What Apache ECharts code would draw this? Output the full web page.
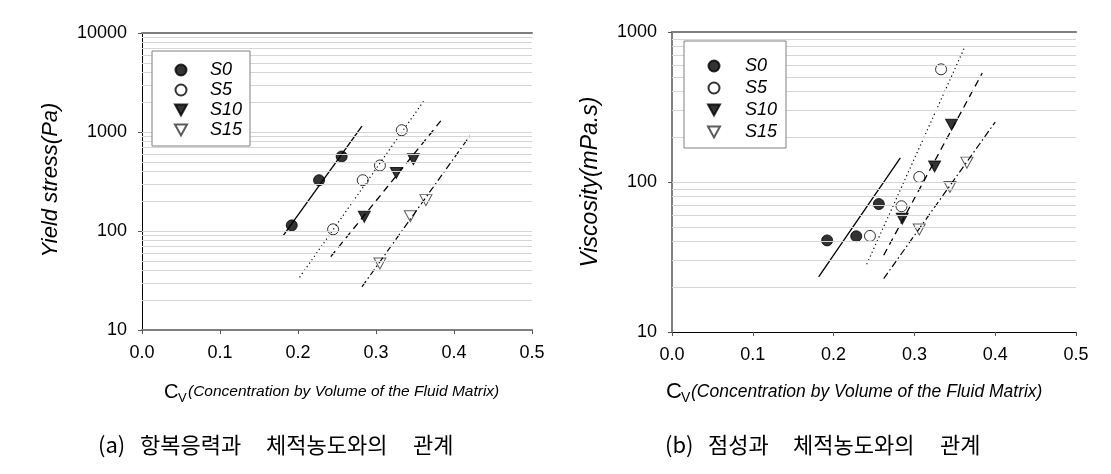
<!DOCTYPE html>
<html><head><meta charset="utf-8">
<script src="https://cdn.jsdelivr.net/npm/echarts@6/dist/echarts.min.js"></script>
<style>html,body{margin:0;padding:0;background:#fff}#c{width:1111px;height:474px}</style>
</head><body><div id="c"></div>
<script>
const seriesNames = ['S0', 'S5', 'S10', 'S15'];
const xTickLabels = ['0.0', '0.1', '0.2', '0.3', '0.4', '0.5'];
const yieldTickLabels = ['10', '100', '1000', '10000'];
const viscTickLabels = ['10', '100', '1000'];

// (a) yield stress vs Cv
const yieldS0X = [0.192, 0.227, 0.256];
const yieldS0Y = [114, 326, 566];
const yieldS5X = [0.245, 0.283, 0.305, 0.333];
const yieldS5Y = [104, 326, 459, 1042];
const yieldS10X = [0.285, 0.326, 0.348];
const yieldS10Y = [139, 386, 532];
const yieldS15X = [0.305, 0.344, 0.364];
const yieldS15Y = [47, 141, 205];
const yieldFitS0X = [0.181, 0.282];
const yieldFitS0Y = [90, 1145];
const yieldFitS5X = [0.202, 0.361];
const yieldFitS5Y = [34, 2046];
const yieldFitS10X = [0.242, 0.383];
const yieldFitS10Y = [55, 1294];
const yieldFitS15X = [0.282, 0.421];
const yieldFitS15Y = [27.3, 929];

// (b) viscosity vs Cv
const viscS0X = [0.192, 0.228, 0.256];
const viscS0Y = [40.8, 43.5, 71.3];
const viscS5X = [0.245, 0.284, 0.306, 0.333];
const viscS5Y = [43.7, 68.9, 108, 564];
const viscS10X = [0.285, 0.325, 0.346];
const viscS10Y = [57, 127, 241];
const viscS15X = [0.306, 0.344, 0.365];
const viscS15Y = [48.2, 92.6, 134.6];
const viscFitS0X = [0.1815, 0.2826];
const viscFitS0Y = [23.3, 145];
const viscFitS5X = [0.241, 0.362];
const viscFitS5Y = [28.3, 787];
const viscFitS10X = [0.262, 0.384];
const viscFitS10Y = [32.5, 533];
const viscFitS15X = [0.262, 0.400];
const viscFitS15Y = [22.7, 251];

const FONT = '"Liberation Sans", Arial, sans-serif';
const KFONT = '"Noto Sans CJK KR", sans-serif';
const pairs = (xs, ys) => xs.map((x, i) => [x, ys[i]]);
const DOWN_TRI = 'path://M0,0L12,0L6,11Z';

const markerStyles = [
  { symbol: 'circle', symbolSize: 11, itemStyle: { color: '#000', borderColor: '#000', borderWidth: 1 } },
  { symbol: 'circle', symbolSize: 11, itemStyle: { color: '#fff', borderColor: '#000', borderWidth: 1 } },
  { symbol: DOWN_TRI, symbolSize: [12, 11], itemStyle: { color: '#000', borderColor: '#000', borderWidth: 1 } },
  { symbol: DOWN_TRI, symbolSize: [12, 11], itemStyle: { color: '#fff', borderColor: '#333', borderWidth: 1 } }
];
const lineStyles = [
  { color: '#000', width: 1.3, type: 'solid' },
  { color: '#000', width: 1.2, type: [1.2, 3] },
  { color: '#000', width: 1.3, type: [7, 5] },
  { color: '#000', width: 1.2, type: [7, 3, 1.5, 3] }
];

function gridLineValues(minV, maxV) {
  const vals = [];
  for (let d = minV; d < maxV; d *= 10) {
    for (let m = 1; m <= 9; m++) {
      const v = d * m;
      if (v > minV && v < maxV) vals.push(v);
    }
  }
  return vals;
}

function buildSeries(idx, points, fits, minV, maxV) {
  const out = [];
  out.push({
    type: 'line', name: 'grid' + idx, xAxisIndex: idx, yAxisIndex: idx, data: [], z: 1, silent: true,
    markLine: {
      silent: true, symbol: 'none', label: { show: false }, animation: false,
      lineStyle: { color: '#d6d6d6', width: 1, type: 'solid' },
      data: gridLineValues(minV, maxV).map(v => ({ yAxis: v }))
    }
  });
  points.forEach((p, i) => {
    out.push(Object.assign({
      type: 'scatter', name: seriesNames[i], xAxisIndex: idx, yAxisIndex: idx, z: 3,
      data: p
    }, markerStyles[i]));
  });
  fits.forEach((f, i) => {
    out.push({
      type: 'line', name: 'fit' + idx + '_' + i, xAxisIndex: idx, yAxisIndex: idx, z: 4,
      data: f, showSymbol: false, symbol: 'none', lineStyle: lineStyles[i], silent: true
    });
  });
  return out;
}

const series = [].concat(
  buildSeries(0,
    [pairs(yieldS0X, yieldS0Y), pairs(yieldS5X, yieldS5Y), pairs(yieldS10X, yieldS10Y), pairs(yieldS15X, yieldS15Y)],
    [pairs(yieldFitS0X, yieldFitS0Y), pairs(yieldFitS5X, yieldFitS5Y), pairs(yieldFitS10X, yieldFitS10Y), pairs(yieldFitS15X, yieldFitS15Y)],
    10, 10000),
  buildSeries(1,
    [pairs(viscS0X, viscS0Y), pairs(viscS5X, viscS5Y), pairs(viscS10X, viscS10Y), pairs(viscS15X, viscS15Y)],
    [pairs(viscFitS0X, viscFitS0Y), pairs(viscFitS5X, viscFitS5Y), pairs(viscFitS10X, viscFitS10Y), pairs(viscFitS15X, viscFitS15Y)],
    10, 1000)
);

function xAxisMain(gridIndex, lineColor, lineWidth) {
  return {
    type: 'value', gridIndex: gridIndex, min: 0, max: 0.5, interval: 0.1, position: 'bottom',
    axisLine: { show: true, lineStyle: { color: lineColor, width: lineWidth } },
    axisTick: { show: true, inside: false, length: 4, lineStyle: { color: '#555' } },
    axisLabel: { margin: 14, fontSize: 18, color: '#000', fontFamily: FONT,
      formatter: v => xTickLabels[Math.round(v * 10)] },
    splitLine: { show: false }
  };
}
function xAxisTop(gridIndex) {
  return {
    type: 'value', gridIndex: gridIndex, min: 0, max: 0.5, position: 'top',
    axisLine: { show: true, onZero: false, lineStyle: { color: '#7f7f7f', width: 2 } },
    axisTick: { show: false }, axisLabel: { show: false }, splitLine: { show: false }
  };
}
function yAxisLog(gridIndex, maxV, labels, lineColor, lineWidth) {
  return {
    type: 'log', logBase: 10, gridIndex: gridIndex, min: 10, max: maxV,
    axisLine: { show: true, lineStyle: { color: lineColor, width: lineWidth } },
    axisTick: { show: true, inside: false, length: 4, lineStyle: { color: '#555' } },
    axisLabel: { margin: 15, fontSize: 18, color: '#000', fontFamily: FONT,
      formatter: v => labels[Math.round(Math.log10(v)) - 1] },
    splitLine: { show: false }, minorTick: { show: false }, minorSplitLine: { show: false }
  };
}

function legendAt(left, top, padding, gap, textPad) {
  return {
    data: seriesNames, orient: 'vertical', left: left, top: top, padding: padding, z: 20,
    itemGap: gap, itemWidth: 12, itemHeight: 11, selectedMode: false,
    borderColor: '#808080', borderWidth: 1, backgroundColor: '#fff',
    textStyle: { fontSize: 18, fontStyle: 'italic', color: '#000', fontFamily: FONT, padding: [0, 0, 0, textPad] }
  };
}

function txt(x, y, text, font, extra) {
  return { type: 'text', x: x, y: y, z: 30, ...(extra || {}),
    style: { text: text, font: font, fill: '#000', align: 'left', verticalAlign: 'middle' } };
}

const chart = echarts.init(document.getElementById('c'), null, { renderer: 'canvas' });
chart.setOption({
  animation: false,
  backgroundColor: '#fff',
  grid: [
    { left: 142, top: 33, width: 390, height: 297 },
    { left: 672, top: 32, width: 404, height: 300 }
  ],
  xAxis: [
    xAxisMain(0, '#808080', 2),
    xAxisMain(1, '#000', 1),
    xAxisTop(0),
    xAxisTop(1)
  ],
  yAxis: [
    yAxisLog(0, 10000, yieldTickLabels, '#000', 1),
    yAxisLog(1, 1000, viscTickLabels, '#808080', 2)
  ],
  legend: [
    legendAt(152, 51, [10, 8, 7, 22], 2, 18),
    legendAt(684, 41, [16, 9, 7, 23], 4, 20)
  ],
  series: series,
  graphic: [
    { type: 'text', x: 51, y: 180, rotation: Math.PI / 2, z: 30,
      style: { text: 'Yield stress(Pa)', font: 'italic 22px ' + FONT, fill: '#000', align: 'center', verticalAlign: 'middle' } },
    { type: 'text', x: 591, y: 182, rotation: Math.PI / 2, z: 30,
      style: { text: 'Viscosity(mPa.s)', font: 'italic 23px ' + FONT, fill: '#000', align: 'center', verticalAlign: 'middle' } },

    txt(164, 392, 'C', '20px ' + FONT),
    txt(178, 398, 'V', '13px ' + FONT),
    txt(188, 392, '(Concentration by Volume of the Fluid Matrix)', 'italic 15.5px ' + FONT),

    txt(666, 392, 'C', '22px ' + FONT),
    txt(681, 398, 'V', '14px ' + FONT),
    txt(691, 392, '(Concentration by Volume of the Fluid Matrix)', 'italic 17.5px ' + FONT),

    txt(98, 445, '(a)', '22px ' + KFONT),
    txt(140, 445, '항복응력과', '22px ' + KFONT),
    txt(266, 445, '체적농도와의', '22px ' + KFONT),
    txt(413, 445, '관계', '22px ' + KFONT),
    txt(665, 445, '(b)', '22px ' + KFONT),
    txt(708, 445, '점성과', '22px ' + KFONT),
    txt(793, 445, '체적농도와의', '22px ' + KFONT),
    txt(940, 445, '관계', '22px ' + KFONT)
  ]
});
</script>
</body></html>
